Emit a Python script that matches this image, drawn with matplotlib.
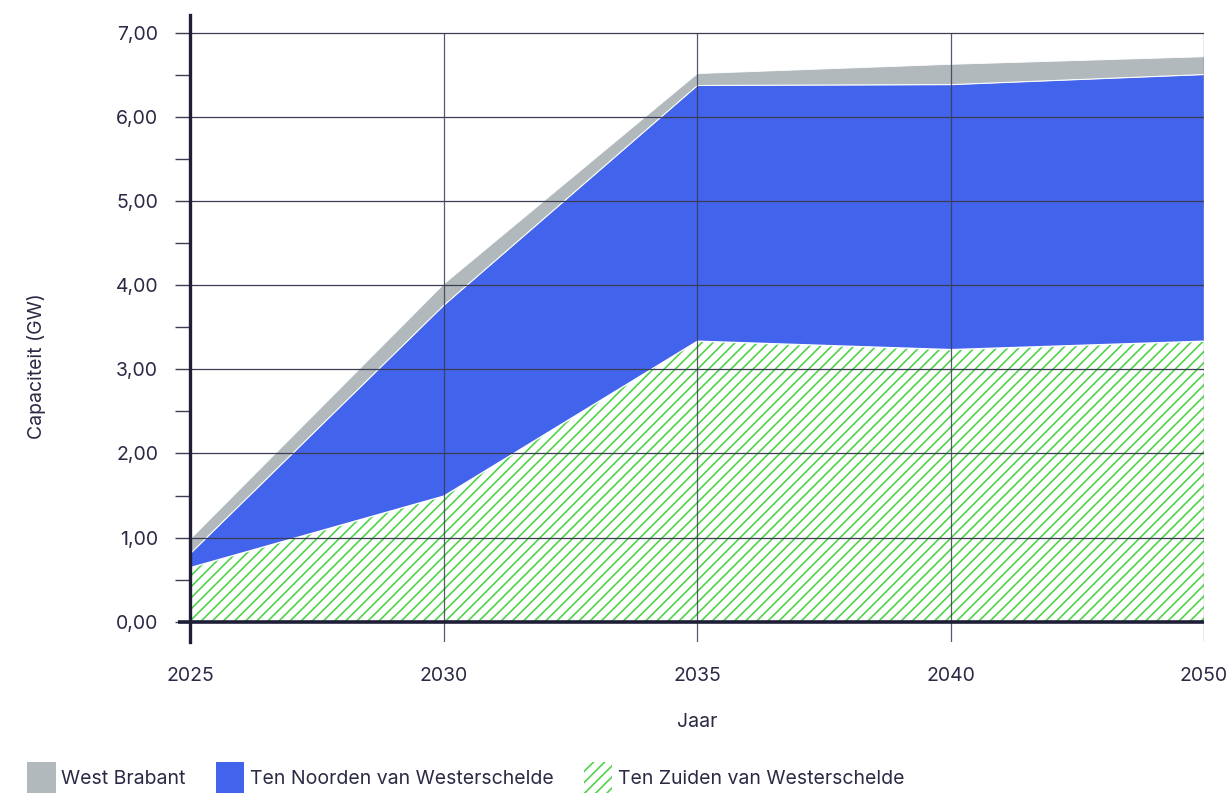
import matplotlib
matplotlib.use("Agg")
import matplotlib.pyplot as plt
from matplotlib.patches import Patch

plt.rcParams['font.family'] = ['Inter', 'DejaVu Sans']
plt.rcParams['hatch.linewidth'] = 1.2

# capaciteit per regio (GW)
jaren = ["2025", "2030", "2035", "2040", "2050"]
zuiden = [0.65, 1.50, 3.34, 3.24, 3.34]
noorden = [0.17, 2.27, 3.04, 3.15, 3.17]
west_brabant = [0.17, 0.25, 0.14, 0.24, 0.21]

y_ticks = [0, 1, 2, 3, 4, 5, 6, 7]

TXT = "#2a2a45"
GRID = "#3c3c55"
GRAY = "#b1b9bd"
BLUE = "#4263eb"
GREEN = "#4fd34a"
FS = 14

fig = plt.figure(figsize=(12.29, 7.98), dpi=100)
ax = fig.add_axes([190 / 1229, 1 - 642 / 798, 1014 / 1229, 627 / 798])

x = list(range(len(jaren)))
top1 = zuiden
top2 = [a + b for a, b in zip(zuiden, noorden)]
top3 = [a + b for a, b in zip(top2, west_brabant)]

ax.fill_between(x, 0, top1, facecolor="white", edgecolor=GREEN, hatch="///",
                linewidth=0, zorder=1)
ax.fill_between(x, top1, top2, facecolor=BLUE, edgecolor="white", linewidth=1.0, zorder=1)
ax.fill_between(x, top2, top3, facecolor=GRAY, edgecolor="white", linewidth=0.6, zorder=1)

ymin, ymax = -0.24, 7.21
ax.set_xlim(0, len(jaren) - 1)
ax.set_ylim(ymin, ymax)

# raster: horizontale lijnen per GW, verticale per jaar
for v in y_ticks[1:]:
    ax.plot([-0.0, len(jaren) - 1], [v, v], color=GRID, lw=0.9, zorder=3)
ax.vlines(x, ymin, 7, color=GRID, lw=0.9, alpha=0.85, zorder=3)
ax.plot([-0.048, len(jaren) - 1], [0, 0], color="#1e1e36", lw=2.6, zorder=4,
        clip_on=False, solid_capstyle="butt")

for s in ["top", "right", "bottom"]:
    ax.spines[s].set_visible(False)
ax.spines["left"].set_color("#1e1e36")
ax.spines["left"].set_linewidth(2.4)
ax.spines["left"].set_zorder(5)

ax.set_yticks(y_ticks)
ax.set_yticklabels([f"{v:.2f}".replace(".", ",") for v in y_ticks])
ax.set_yticks([v + 0.5 for v in y_ticks[:-1]], minor=True)
ax.tick_params(axis="y", which="both", direction="out", length=11, width=1.0,
               color=GRID, labelsize=FS, labelcolor=TXT, pad=12)

ax.set_xticks(x)
ax.set_xticklabels(jaren)
ax.tick_params(axis="x", length=0, labelsize=FS, labelcolor=TXT, pad=18)

ax.set_xlabel("Jaar", fontsize=FS, color=TXT, labelpad=20)
ax.set_ylabel("Capaciteit (GW)", fontsize=FS, color=TXT)
ax.yaxis.set_label_coords(-0.142, 0.44)

handles = [
    Patch(facecolor=GRAY, edgecolor="none", label="West Brabant"),
    Patch(facecolor=BLUE, edgecolor="none", label="Ten Noorden van Westerschelde"),
    Patch(facecolor="white", edgecolor=GREEN, hatch="///", linewidth=0,
          label="Ten Zuiden van Westerschelde"),
]
leg = fig.legend(handles=handles, loc="lower left", bbox_to_anchor=(0.008, -0.016),
                 ncol=3, frameon=False, fontsize=FS, handlelength=1.45,
                 handleheight=2.1, handletextpad=0.3, columnspacing=1.55,
                 labelcolor=TXT)

fig.savefig("out.png", dpi=100)
